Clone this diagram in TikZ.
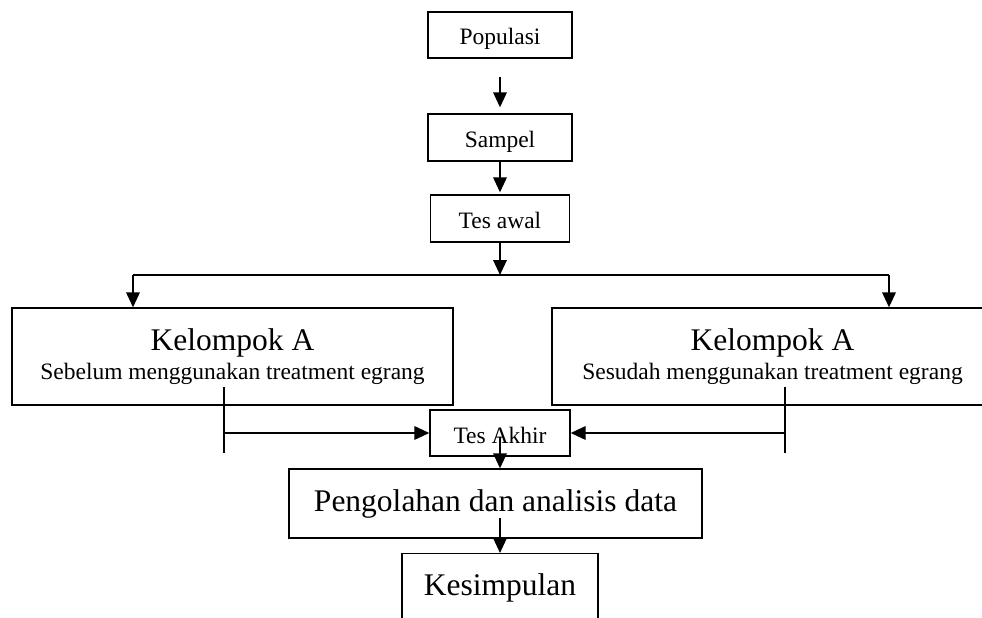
\documentclass[tikz,border=0pt]{standalone}
\usepackage{fontspec}
\setmainfont{Liberation Serif}
\usetikzlibrary{arrows.meta, positioning}

\begin{document}
\begin{tikzpicture}[x=1pt, y=-1pt,
    smallbox/.style={draw, line width=1.3pt, minimum width=144pt, minimum height=46pt,
      inner sep=0pt, text height=20pt, text depth=0pt, font=\fontsize{23.5}{28}\selectfont},
    bigbox/.style={draw, line width=1.3pt, inner sep=0pt, font=\fontsize{31.5}{36}\selectfont},
    groupbox/.style={draw, line width=1.3pt, minimum width=441pt, minimum height=97pt,
      inner sep=0pt, align=center, font=\fontsize{23.5}{29}\selectfont},
    flow/.style={line width=1.8pt, -{Triangle[length=15pt,width=13.5pt]}},
    plain/.style={line width=1.8pt}]

      % page frame, whatever runs past it is cut off
      \useasboundingbox (0,0) rectangle (982,618);
      \clip (0,0) rectangle (982,618);

      % top chain
      \node[smallbox] (pop) at (500,35) {Populasi};
      \node[smallbox, minimum height=47pt] (sampel) at (500,137.5) {Sampel};
      \node[smallbox, minimum width=139pt, minimum height=47pt] (awal) at (500,218.5) {Tes awal};

      % the two groups
      \node[groupbox] (kelA) at (232.5,356.5)
        {{\fontsize{31.5}{29}\selectfont Kelompok A}\\ Sebelum menggunakan treatment egrang};
      \node[groupbox] (kelB) at (772.5,356.5)
        {{\fontsize{31.5}{29}\selectfont Kelompok A}\\ Sesudah menggunakan treatment egrang};

      % bottom chain
      \node[smallbox, minimum width=140pt] (akhir) at (500,433) {Tes Akhir};
      \node[bigbox, minimum width=413pt, minimum height=69pt] (olah) at (495.5,503.5)
        {Pengolahan dan analisis data};
      \node[bigbox, minimum width=196pt, minimum height=68pt, anchor=north] (simpul) at (500,553)
        {Kesimpulan};

      % split after the first test
      \coordinate (split) at (500,275);
      \coordinate (lt) at (133,275);
      \coordinate (rt) at (889,275);

      % feeds into the last test
      \coordinate (la) at (224,387);
      \coordinate (lb) at (224,453);
      \coordinate (ra) at (785,387);
      \coordinate (rb) at (785,453);

      \draw[flow, shorten <=18pt, shorten >=6pt] (pop) -- (sampel);
      \draw[flow, shorten >=2pt] (sampel) -- (awal);
      \draw[flow] (awal) -- (split);
      \draw[plain] (lt) -- (rt);
      \draw[flow] (lt) -- (lt |- kelA.north);
      \draw[flow] (rt) -- (rt |- kelB.north);

      \draw[line width=1.3pt] (la) -- (lb);
      \draw[line width=1.3pt] (ra) -- (rb);
      \draw[flow] (la |- akhir.west) -- (akhir.west);
      \draw[flow] (ra |- akhir.east) -- (akhir.east);

      \draw[flow] ([yshift=-4pt]akhir.center) -- (akhir.center |- olah.north);
      \draw[flow] ([yshift=-14.5pt]olah.center -| simpul.north) -- (simpul.north);

    \end{tikzpicture}
\end{document}
